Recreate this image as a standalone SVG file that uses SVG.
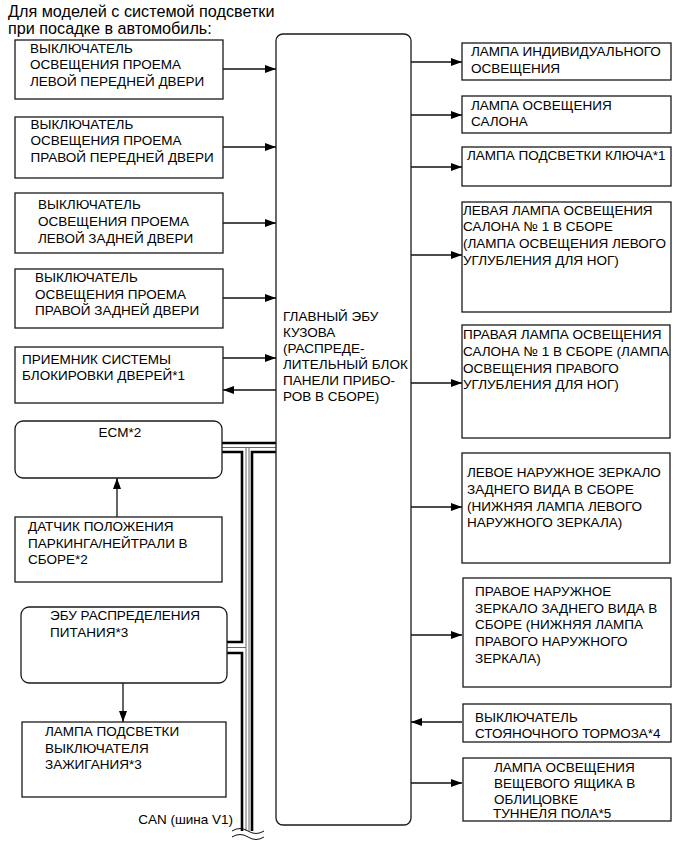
<svg xmlns="http://www.w3.org/2000/svg" width="691" height="855" viewBox="0 0 691 855">
<defs>
<style>
.b{fill:#fff;stroke:#1a1a1a;stroke-width:1.3}
.t{font-family:"Liberation Sans",Arial,sans-serif;font-size:13.5px;fill:#000}
.h{font-family:"Liberation Sans",Arial,sans-serif;font-size:16.2px;fill:#000}
.c{fill:none;stroke:#111;stroke-width:1.3}
.bt{fill:none;stroke:#000;stroke-width:2.6}
.bn{fill:none;stroke:#666;stroke-width:1}
</style>
<marker id="ah" viewBox="0 0 11 8" refX="11" refY="4" markerWidth="11" markerHeight="8" markerUnits="userSpaceOnUse" orient="auto">
<path d="M0,0 L11,4 L0,8 Z" fill="#000"/>
</marker>
</defs>
<rect width="691" height="855" fill="#fff"/>
<g id="title">
<text class="h" x="8" y="17">Для моделей с системой подсветки</text>
<text class="h" x="8" y="34">при посадке в автомобиль:</text>
</g>
<g id="connectors">
<path class="c" d="M223,69 H276" marker-end="url(#ah)"/>
<path class="c" d="M223,147 H276" marker-end="url(#ah)"/>
<path class="c" d="M223,223 H276" marker-end="url(#ah)"/>
<path class="c" d="M223,298 H276" marker-end="url(#ah)"/>
<path class="c" d="M223,358 H276" marker-end="url(#ah)"/>
<path class="c" d="M276,390 H223" marker-end="url(#ah)"/>
<path class="c" d="M117,517 V478" marker-end="url(#ah)"/>
<path class="c" d="M123,683 V722" marker-end="url(#ah)"/>
<path class="c" d="M411,62 H462" marker-end="url(#ah)"/>
<path class="c" d="M411,115 H462" marker-end="url(#ah)"/>
<path class="c" d="M411,167 H462" marker-end="url(#ah)"/>
<path class="c" d="M411,255 H462" marker-end="url(#ah)"/>
<path class="c" d="M411,383 H462" marker-end="url(#ah)"/>
<path class="c" d="M411,507 H462" marker-end="url(#ah)"/>
<path class="c" d="M411,635 H462" marker-end="url(#ah)"/>
<path class="c" d="M462,722 H411" marker-end="url(#ah)"/>
<path class="c" d="M411,783 H462" marker-end="url(#ah)"/>
</g>
<g id="can-bus">
<path class="bt" d="M222,443 H276"/>
<path class="bn" d="M222,447.5 H276"/>
<path class="bt" d="M222,452 H242 V642 H227"/>
<path class="bt" d="M276,452 H252 V831"/>
<path class="bt" d="M227,653 H242 V831"/>
<path class="bn" d="M246,448 V831"/>
<path class="bn" d="M249,448 V831"/>
<path class="bn" d="M227,647.5 H246"/>
<path fill="none" stroke="#111" stroke-width="1" d="M232,831 Q240,826 248,831 T264,831"/>
<path fill="none" stroke="#111" stroke-width="1" d="M232,837 Q240,832 248,837 T264,837"/>
<text class="t" x="233" y="824" text-anchor="end">CAN (шина V1)</text>
</g>
<g id="main-ecu">
<rect class="b" x="276" y="34" width="135" height="791" rx="7"/>
<text class="t" x="283" y="320.5">ГЛАВНЫЙ ЭБУ</text>
<text class="t" x="283" y="336.5">КУЗОВА</text>
<text class="t" x="283" y="352.5">(РАСПРЕДЕ-</text>
<text class="t" x="283" y="368.5">ЛИТЕЛЬНЫЙ БЛОК</text>
<text class="t" x="283" y="384.5">ПАНЕЛИ ПРИБО-</text>
<text class="t" x="283" y="400.5">РОВ В СБОРЕ)</text>
</g>
<g id="lf-door">
<rect class="b" x="15" y="40" width="208" height="59"/>
<text class="t" x="30" y="52.5">ВЫКЛЮЧАТЕЛЬ</text>
<text class="t" x="30" y="69">ОСВЕЩЕНИЯ ПРОЕМА</text>
<text class="t" x="30" y="86">ЛЕВОЙ ПЕРЕДНЕЙ ДВЕРИ</text>
</g>
<g id="rf-door">
<rect class="b" x="15" y="117" width="208" height="61"/>
<text class="t" x="30.5" y="128.5">ВЫКЛЮЧАТЕЛЬ</text>
<text class="t" x="30.5" y="145">ОСВЕЩЕНИЯ ПРОЕМА</text>
<text class="t" x="30.5" y="161.5">ПРАВОЙ ПЕРЕДНЕЙ ДВЕРИ</text>
</g>
<g id="lr-door">
<rect class="b" x="15" y="193" width="208" height="60"/>
<text class="t" x="38" y="208.5">ВЫКЛЮЧАТЕЛЬ</text>
<text class="t" x="38" y="225.5">ОСВЕЩЕНИЯ ПРОЕМА</text>
<text class="t" x="38" y="242.5">ЛЕВОЙ ЗАДНЕЙ ДВЕРИ</text>
</g>
<g id="rr-door">
<rect class="b" x="15" y="269" width="208" height="59"/>
<text class="t" x="35" y="282">ВЫКЛЮЧАТЕЛЬ</text>
<text class="t" x="35" y="298.5">ОСВЕЩЕНИЯ ПРОЕМА</text>
<text class="t" x="35" y="315">ПРАВОЙ ЗАДНЕЙ ДВЕРИ</text>
</g>
<g id="door-lock-receiver">
<rect class="b" x="15" y="347" width="208" height="56"/>
<text class="t" x="22" y="363.5">ПРИЕМНИК СИСТЕМЫ</text>
<text class="t" x="22" y="380">БЛОКИРОВКИ ДВЕРЕЙ*1</text>
</g>
<g id="ecm">
<rect class="b" x="15" y="421" width="207" height="57" rx="8"/>
<text class="t" x="120" y="437" text-anchor="middle">ECM*2</text>
</g>
<g id="pn-sensor">
<rect class="b" x="15" y="517" width="207" height="65"/>
<text class="t" x="28" y="531">ДАТЧИК ПОЛОЖЕНИЯ</text>
<text class="t" x="28" y="547.5">ПАРКИНГА/НЕЙТРАЛИ В</text>
<text class="t" x="28" y="564">СБОРЕ*2</text>
</g>
<g id="power-ecu">
<rect class="b" x="21" y="607" width="206" height="76" rx="8"/>
<text class="t" x="50" y="620">ЭБУ РАСПРЕДЕЛЕНИЯ</text>
<text class="t" x="50" y="637">ПИТАНИЯ*3</text>
</g>
<g id="ign-lamp">
<rect class="b" x="22" y="722" width="204" height="75"/>
<text class="t" x="45" y="736">ЛАМПА ПОДСВЕТКИ</text>
<text class="t" x="45" y="752.5">ВЫКЛЮЧАТЕЛЯ</text>
<text class="t" x="45" y="769">ЗАЖИГАНИЯ*3</text>
</g>
<g id="personal-lamp">
<rect class="b" x="462" y="43" width="209" height="37"/>
<text class="t" x="471" y="56">ЛАМПА ИНДИВИДУАЛЬНОГО</text>
<text class="t" x="471" y="72.5">ОСВЕЩЕНИЯ</text>
</g>
<g id="room-lamp">
<rect class="b" x="462" y="96" width="209" height="37"/>
<text class="t" x="471" y="109.5">ЛАМПА ОСВЕЩЕНИЯ</text>
<text class="t" x="471" y="126">САЛОНА</text>
</g>
<g id="key-lamp">
<rect class="b" x="462" y="147" width="209" height="39"/>
<text class="t" x="467" y="160">ЛАМПА ПОДСВЕТКИ КЛЮЧА*1</text>
</g>
<g id="l-foot-lamp">
<rect class="b" x="462" y="202" width="209" height="110"/>
<text class="t" x="463" y="214.5">ЛЕВАЯ ЛАМПА ОСВЕЩЕНИЯ</text>
<text class="t" x="463" y="231">САЛОНА № 1 В СБОРЕ</text>
<text class="t" x="463" y="248">(ЛАМПА ОСВЕЩЕНИЯ ЛЕВОГО</text>
<text class="t" x="463" y="264.5">УГЛУБЛЕНИЯ ДЛЯ НОГ)</text>
</g>
<g id="r-foot-lamp">
<rect class="b" x="462" y="325" width="208" height="113"/>
<text class="t" x="463" y="339">ПРАВАЯ ЛАМПА ОСВЕЩЕНИЯ</text>
<text class="t" x="463" y="356">САЛОНА № 1 В СБОРЕ (ЛАМПА</text>
<text class="t" x="463" y="372.5">ОСВЕЩЕНИЯ ПРАВОГО</text>
<text class="t" x="463" y="389">УГЛУБЛЕНИЯ ДЛЯ НОГ)</text>
</g>
<g id="l-mirror">
<rect class="b" x="462" y="453" width="208" height="110"/>
<text class="t" x="467" y="477">ЛЕВОЕ НАРУЖНОЕ ЗЕРКАЛО</text>
<text class="t" x="467" y="494">ЗАДНЕГО ВИДА В СБОРЕ</text>
<text class="t" x="467" y="510.5">(НИЖНЯЯ ЛАМПА ЛЕВОГО</text>
<text class="t" x="467" y="527">НАРУЖНОГО ЗЕРКАЛА)</text>
</g>
<g id="r-mirror">
<rect class="b" x="463" y="578" width="208" height="109"/>
<text class="t" x="475" y="596">ПРАВОЕ НАРУЖНОЕ</text>
<text class="t" x="475" y="612.5">ЗЕРКАЛО ЗАДНЕГО ВИДА В</text>
<text class="t" x="475" y="629">СБОРЕ (НИЖНЯЯ ЛАМПА</text>
<text class="t" x="475" y="646">ПРАВОГО НАРУЖНОГО</text>
<text class="t" x="475" y="662.5">ЗЕРКАЛА)</text>
</g>
<g id="parking-brake-sw">
<rect class="b" x="463" y="704" width="208" height="38"/>
<text class="t" x="475" y="722">ВЫКЛЮЧАТЕЛЬ</text>
<text class="t" x="475" y="738">СТОЯНОЧНОГО ТОРМОЗА*4</text>
</g>
<g id="console-box-lamp">
<rect class="b" x="463" y="758" width="208" height="63"/>
<text class="t" x="494" y="772">ЛАМПА ОСВЕЩЕНИЯ</text>
<text class="t" x="494" y="788">ВЕЩЕВОГО ЯЩИКА В</text>
<text class="t" x="494" y="804">ОБЛИЦОВКЕ</text>
<text class="t" x="493" y="817.5">ТУННЕЛЯ ПОЛА*5</text>
</g>
</svg>
